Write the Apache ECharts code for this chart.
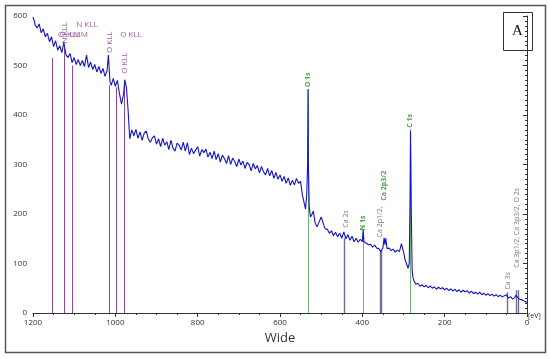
<!DOCTYPE html>
<html><head><meta charset="utf-8">
<script src="https://cdn.jsdelivr.net/npm/echarts@6/dist/echarts.min.js"></script>
<style>html,body{margin:0;padding:0;background:#fff}#c{width:550px;height:359px}</style>
</head><body><div id="c"></div>
<script>
// XPS wide survey spectrum: [binding energy (eV), counts]
const spectrum = [
[1200,598],[1197,590],[1195,582],[1192,586],[1190,576],[1185,584],[1180,566],[1175,574],[1170,558],[1165,565],[1160,548],[1155,558],
[1150,538],[1145,550],[1140,531],[1135,540],[1130,526],[1125,547],[1120,522],[1115,516],[1110,524],[1105,506],
[1100,516],[1095,502],[1090,512],[1085,500],[1080,510],[1075,498],[1070,521],[1065,496],[1060,507],[1055,492],
[1050,502],[1045,487],[1040,498],[1035,484],[1030,494],[1025,478],[1020,490],[1017,521],[1013,468],[1010,460],
[1005,474],[1000,458],[995,470],[990,443],[985,422],[980,442],[977,471],[973,455],[969,410],[965,352],
[960,370],[955,358],[950,371],[945,353],[940,366],[935,349],[930,363],[925,368],[920,352],[915,345],
[910,354],[905,358],[900,341],[895,352],[890,336],[885,353],[880,339],[875,346],[870,330],[865,349],
[860,333],[855,327],[850,343],[845,339],[840,329],[835,345],[830,327],[825,344],[820,320],[815,333],
[810,322],[805,329],[800,336],[795,317],[790,330],[785,324],[780,331],[775,315],[770,325],[765,312],
[760,327],[755,310],[750,322],[745,305],[740,319],[735,312],[730,302],[725,318],[720,300],[715,313],
[710,306],[705,296],[700,311],[695,299],[690,307],[685,292],[680,304],[675,300],[670,287],[665,302],
[660,291],[655,298],[650,283],[645,296],[640,285],[635,279],[630,292],[625,277],[620,288],[615,272],
[610,284],[605,270],[600,279],[595,266],[590,276],[585,262],[580,273],[575,258],[570,268],[565,259],
[560,272],[555,262],[550,266],[546,240],[542,225],[538,210],[535,240],[533,300],[532,452],[531,300],
[529,215],[526,194],[522,200],[519,206],[515,183],[510,174],[506,182],[503,186],[500,194],[496,195],
[493,176],[490,170],[485,169],[480,161],[475,166],[470,156],[465,163],[460,154],[455,161],[450,151],
[445,164],[440,150],[435,158],[430,147],[425,155],[420,144],[415,151],[410,143],[405,149],[400,144],
[398,168],[396,144],[390,141],[385,138],[380,139],[375,133],[370,137],[365,131],[360,130],[355,124],
[352,120],[350,132],[347,152],[345,138],[343,151],[340,130],[335,131],[330,126],[325,129],[320,123],
[315,127],[310,124],[305,140],[302,142],[299,120],[296,107],[292,98],[289,90],[286,100],[284,240],
[283,368],[282,300],[281,200],[279,85],[277,71],[274,64],[270,58],[265,60],[260,54],[255,57],
[250,53],[245,56],[240,51],[235,55],[230,50],[225,53],[220,48],[215,52],[210,49],[205,51],
[200,47],[195,50],[190,45],[185,49],[180,44],[175,48],[170,43],[165,47],[160,42],[155,46],
[150,43],[145,45],[140,40],[135,44],[130,39],[125,42],[120,38],[115,42],[110,37],[105,40],
[100,36],[95,39],[90,35],[85,38],[80,34],[75,37],[70,33],[65,36],[60,32],[55,35],
[50,37],[45,30],[40,33],[35,28],[30,31],[27,36],[25,33],[20,29],[15,27],[10,26],[5,23],[0,22]
];

// Peak marker lines
const markerEnergy = [1154,1125,1105,1015,998,979, 532,398,283, 445,357,353,49,25,21];
const markerTop    = [515,535,500,460,456,471, 452,166,372, 151,127,127,42,46,46];
const markerKind   = ['auger','auger','auger','auger','auger','auger','main','main','main','minor','minor','minor','minor','minor','minor'];

// Peak labels
const labelText   = ['C KLL','Ca LMM','N KLL','N KLL','O KLL','O KLL','O KLL','O 1s','C 1s','N 1s','Ca 2p3/2','Ca 2s','Ca 2p1/2,','Ca 3s','Ca 3p1/2, Ca 3p3/2, O 2s'];
const labelEnergy = [1110,1103,1122,1069,1013,962,977,532,283,398,348,440,357,46,25];
const labelValue  = [562,562,566,582,547,562,505,471,388,182,257,190,184,65,172];
const labelRotate = [0,0,90,0,90,0,90,90,90,90,90,90,90,90,90];
const labelKind   = ['auger','auger','auger','auger','auger','auger','auger','main','main','main','main','minor','minor','minor','minor'];

const xMin = 0, xMax = 1200, xStep = 200;
const yMin = 0, yMax = 600, yStep = 100;

const lineColor = {auger:'#93459a', main:'#6fb36f', minor:'#6a7090'};
const lineWidth = {auger:1, main:1, minor:1.4};
const textColor = {auger:'#8a3a8a', main:'#1e8c1e', minor:'#555'};
const textWeight = {auger:'normal', main:'bold', minor:'normal'};

const chart = echarts.init(document.getElementById('c'), null, {renderer:'canvas'});
const font = 'Open Sans, Noto Sans, DejaVu Sans, sans-serif';

chart.setOption({
  animation:false,
  backgroundColor:'#fff',
  grid:{left:33, right:23, top:16, bottom:46},
  xAxis:{
    type:'value', min:xMin, max:xMax, interval:xStep, inverse:true,
    axisLine:{lineStyle:{color:'#333', width:1}},
    axisTick:{length:4, lineStyle:{color:'#333'}},
    minorTick:{show:true, splitNumber:4, length:2, lineStyle:{color:'#333'}},
    axisLabel:{fontSize:8, color:'#333', margin:6, fontFamily:font, formatter:v=>String(v)},
    splitLine:{show:false},
    name:'Wide', nameLocation:'middle', nameGap:18,
    nameTextStyle:{fontSize:13, color:'#333', fontFamily:font}
  },
  yAxis:{
    type:'value', min:yMin, max:yMax, interval:yStep,
    axisLine:{show:true, lineStyle:{color:'#333', width:1}},
    axisTick:{show:true, length:4, lineStyle:{color:'#333'}},
    minorTick:{show:true, splitNumber:10, length:2, lineStyle:{color:'#333'}},
    axisLabel:{fontSize:8, color:'#333', margin:6, fontFamily:font, formatter:v=>String(v)},
    splitLine:{show:false}
  },
  series:[
    {
      type:'lines', coordinateSystem:'cartesian2d', z:1, silent:true,
      data: markerEnergy.map((e,i)=>({
        coords:[[e,0],[e,markerTop[i]]],
        lineStyle:{color:lineColor[markerKind[i]], width:lineWidth[markerKind[i]], opacity:1}
      }))
    },
    {
      type:'line', z:3, silent:true, symbol:'none',
      data: spectrum,
      lineStyle:{color:'#1414c8', width:1.1}
    },
    {
      type:'scatter', z:4, silent:true, symbolSize:0,
      data: labelText.map((t,i)=>({
        value:[labelEnergy[i], labelValue[i]],
        label:{
          show:true, formatter:t, position:'inside', rotate:labelRotate[i],
          fontSize: labelKind[i]==='auger' ? 8 : 7,
          fontWeight:textWeight[labelKind[i]], color:textColor[labelKind[i]],
          fontFamily:font
        }
      }))
    }
  ],
  graphic:[
    {type:'rect', shape:{x:5.5, y:5.5, width:540, height:347}, style:{fill:'none', stroke:'#555', lineWidth:1.5}, silent:true},
    {type:'rect', shape:{x:503.5, y:12.5, width:29, height:38}, style:{fill:'#fff', stroke:'#333', lineWidth:1}, silent:true},
    {type:'text', x:517.5, y:31, style:{text:'A', font:'15px "Liberation Serif", "DejaVu Serif", serif', fill:'#111', align:'center', verticalAlign:'middle'}, silent:true},
    {type:'text', x:528, y:316, style:{text:'[eV]', font:'7px "Open Sans", sans-serif', fill:'#333', align:'left', verticalAlign:'middle'}, silent:true}
  ]
});
</script>
</body></html>
